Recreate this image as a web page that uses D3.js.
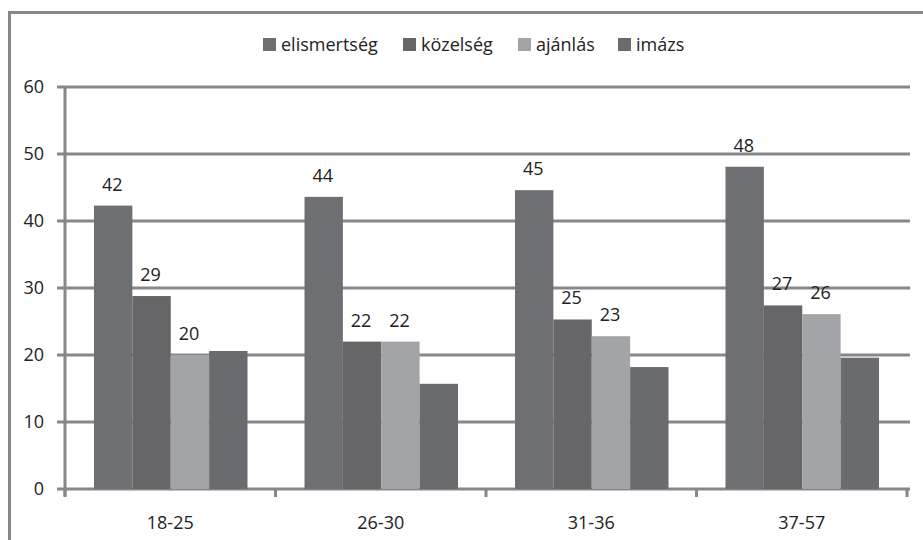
<!DOCTYPE html>
<html>
<head>
<meta charset="utf-8">
<script src="https://cdn.jsdelivr.net/npm/d3@7"></script>
<style>
  body { margin: 0; background: #fff; }
  text { font-family: "Open Sans", "Noto Sans", sans-serif; fill: #222; }
</style>
</head>
<body>
<svg id="chart" width="923" height="540"></svg>
<script>
// categories and series
var groups = ['18-25', '26-30', '31-36', '37-57'];
var series = ['elismertség', 'közelség', 'ajánlás', 'imázs'];
var elismertseg = [42.3, 43.6, 44.6, 48.1];
var kozelseg = [28.8, 22.0, 25.3, 27.4];
var ajanlas = [20.0, 22.0, 22.8, 26.1];
var imazs = [20.6, 15.7, 18.2, 19.6];
var yTicks = [0, 10, 20, 30, 40, 50, 60];
var labelled = [true, true, true, false];
var colors = ['#6e6f73', '#666668', '#a3a4a7', '#6a6b6e'];

(function () {
  'use strict';

  var values = [elismertseg, kozelseg, ajanlas, imazs];

  var svg = d3.select('#chart');
  var grid = '#87878a';
  var fs = 18;

  // frame
  svg.append('path')
    .attr('d', 'M9.5,540 V12.5 H923')
    .attr('fill', 'none')
    .attr('stroke', grid)
    .attr('stroke-width', 3);

  var left = 65, right = 907, plotTop = 87, bottom = 489;

  var x0 = d3.scaleBand().domain(groups).range([left, right]).padding(0);
  var x1 = d3.scaleBand().domain(series).range([29, x0.bandwidth() - 28]).padding(0);
  var y = d3.scaleLinear().domain([0, 60]).range([bottom, plotTop]);

  // gridlines + y ticks
  svg.append('g').selectAll('line')
    .data(yTicks)
    .enter().append('line')
    .attr('x1', left - 8).attr('x2', 910)
    .attr('y1', function (d) { return y(d); })
    .attr('y2', function (d) { return y(d); })
    .attr('stroke', grid)
    .attr('stroke-width', 3);

  svg.append('g').selectAll('text')
    .data(yTicks)
    .enter().append('text')
    .attr('x', 44)
    .attr('y', function (d) { return y(d) + 6; })
    .attr('text-anchor', 'end')
    .attr('font-size', fs)
    .text(function (d) { return d; });

  // bars
  var rows = [];
  groups.forEach(function (g, gi) {
    series.forEach(function (s, si) {
      rows.push({ group: g, series: s, si: si, value: values[si][gi] });
    });
  });

  var bars = svg.append('g');
  bars.selectAll('rect')
    .data(rows)
    .enter().append('rect')
    .attr('x', function (d) { return x0(d.group) + x1(d.series); })
    .attr('width', x1.bandwidth())
    .attr('y', function (d) { return y(d.value); })
    .attr('height', function (d) { return y(0) - y(d.value); })
    .attr('fill', function (d) { return colors[d.si]; });

  bars.selectAll('text')
    .data(rows.filter(function (d) { return labelled[d.si]; }))
    .enter().append('text')
    .attr('x', function (d) { return x0(d.group) + x1(d.series) + x1.bandwidth() / 2 - 1; })
    .attr('y', function (d) { return y(d.value) - 15; })
    .attr('text-anchor', 'middle')
    .attr('font-size', fs)
    .text(function (d) { return d3.format('.0f')(d.value); });

  // axis lines
  svg.append('line')
    .attr('x1', left).attr('x2', left)
    .attr('y1', plotTop).attr('y2', bottom + 7)
    .attr('stroke', grid).attr('stroke-width', 3);

  var edges = groups.map(function (g) { return x0(g); }).concat([right]);
  svg.append('g').selectAll('line')
    .data(edges)
    .enter().append('line')
    .attr('x1', function (d) { return d; })
    .attr('x2', function (d) { return d; })
    .attr('y1', bottom).attr('y2', bottom + 8)
    .attr('stroke', grid).attr('stroke-width', 3);

  svg.append('g').selectAll('text')
    .data(groups)
    .enter().append('text')
    .attr('x', function (d) { return x0(d) + x0.bandwidth() / 2; })
    .attr('y', 529)
    .attr('text-anchor', 'middle')
    .attr('font-size', fs)
    .text(function (d) { return d; });

  // legend
  var legendX = [263, 403, 518, 618];
  var legend = svg.append('g').selectAll('g')
    .data(series)
    .enter().append('g')
    .attr('transform', function (d, i) { return 'translate(' + legendX[i] + ',38)'; });
  legend.append('rect')
    .attr('width', 13).attr('height', 13)
    .attr('fill', function (d, i) { return colors[i]; });
  legend.append('text')
    .attr('x', 18).attr('y', 13)
    .attr('font-size', fs)
    .text(function (d) { return d; });
})();
</script>
</body>
</html>
